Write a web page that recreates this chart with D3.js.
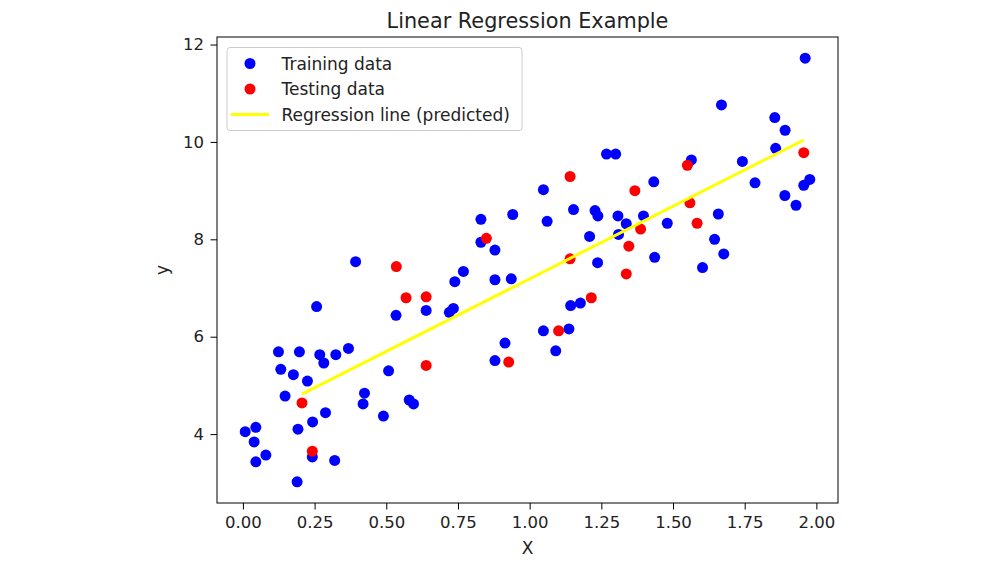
<!DOCTYPE html>
<html>
<head>
<meta charset="utf-8">
<script src="https://cdn.jsdelivr.net/npm/d3@7"></script>
<style>
  body { margin: 0; background: #fff; }
  svg { font-family: "DejaVu Sans", sans-serif; }
</style>
</head>
<body>
<div id="chart"></div>
<script>
// training points (x, y)
const trainX = [0.257, 0.534, 0.639, 0.124, 0.197, 0.268, 0.282, 0.324, 0.368, 0.132,
  0.176, 0.225, 0.147, 0.508, 0.424, 0.419, 0.580, 0.595, 0.288, 0.490,
  0.243, 0.192, 0.008, 0.045, 0.039, 0.080, 0.045, 0.242, 0.320, 0.189,
  0.393, 1.048, 1.153, 1.228, 1.238, 1.308, 0.830, 0.941, 1.061, 0.830,
  0.879, 1.209, 1.310, 1.237, 0.769, 0.739, 0.879, 0.936, 0.734, 0.720,
  1.143, 1.177, 1.048, 1.137, 1.091, 0.914, 0.879, 1.961, 1.669, 1.855,
  1.891, 1.858, 1.268, 1.300, 1.564, 1.742, 1.786, 1.977, 1.956, 1.890,
  1.929, 1.433, 1.397, 1.337, 1.480, 1.658, 1.645, 1.677, 1.436, 1.603];
const trainY = [6.62, 6.44, 6.54, 5.69, 5.69, 5.63, 5.46, 5.63, 5.76, 5.33,
  5.22, 5.09, 4.78, 5.30, 4.84, 4.62, 4.70, 4.62, 4.44, 4.37,
  4.25, 4.10, 4.05, 4.14, 3.84, 3.57, 3.43, 3.53, 3.46, 3.02,
  7.54, 9.02, 8.61, 8.59, 8.48, 8.48, 8.41, 8.51, 8.37, 7.94,
  7.78, 8.06, 8.10, 7.52, 7.34, 7.13, 7.17, 7.19, 6.58, 6.50,
  6.64, 6.69, 6.12, 6.16, 5.71, 5.87, 5.51, 11.72, 10.76, 10.50,
  10.24, 9.87, 9.75, 9.75, 9.63, 9.60, 9.16, 9.23, 9.11, 8.90,
  8.70, 9.18, 8.48, 8.32, 8.33, 8.52, 8.00, 7.70, 7.63, 7.42];

// testing points
const testX = [0.569, 0.639, 0.206, 0.639, 0.242, 0.535, 1.141, 0.849, 1.141, 1.215,
  1.101, 0.927, 1.956, 1.550, 1.367, 1.559, 1.387, 1.584, 1.346, 1.337];
const testY = [6.80, 6.82, 4.64, 5.41, 3.65, 7.44, 9.29, 8.02, 7.60, 6.80,
  6.12, 5.48, 9.78, 9.52, 9.00, 8.75, 8.21, 8.33, 7.86, 7.29];

// regression line (predicted), end points
const lineX = [0.206, 1.956];
const lineY = [4.82, 10.04];

const xTicks = [0, 0.25, 0.5, 0.75, 1, 1.25, 1.5, 1.75, 2];
const yTicks = [4, 6, 8, 10, 12];

const legendLabels = ["Training data", "Testing data", "Regression line (predicted)"];

const W = 1000, H = 563;
const margin = { top: 37, right: 162, bottom: 60, left: 217 };
const width = W - margin.left - margin.right,
      height = H - margin.top - margin.bottom;

const svg = d3.select("#chart").append("svg")
  .attr("width", W).attr("height", H);

const g = svg.append("g")
  .attr("transform", `translate(${margin.left},${margin.top})`);

// matplotlib-style 5% margins
function padded(vals) {
  const [lo, hi] = d3.extent(vals);
  const m = (hi - lo) * 0.05;
  return [lo - m, hi + m];
}

const x = d3.scaleLinear().domain(padded(trainX.concat(testX))).range([0, width]);
const y = d3.scaleLinear().domain(padded(trainY.concat(testY))).range([height, 0]);

const train = trainX.map((d, i) => ({ x: d, y: trainY[i] }));
const test = testX.map((d, i) => ({ x: d, y: testY[i] }));

// axes
const xAxis = g.append("g")
  .attr("transform", `translate(0,${height})`)
  .call(d3.axisBottom(x).tickValues(xTicks).tickFormat(d3.format(".2f")).tickSizeOuter(0).tickSize(6.5).tickPadding(7));
const yAxis = g.append("g")
  .call(d3.axisLeft(y).tickValues(yTicks).tickFormat(d3.format("d")).tickSizeOuter(0).tickSize(6.5).tickPadding(6.5));
[xAxis, yAxis].forEach(a => {
  a.select(".domain").remove();
  a.selectAll("line").attr("stroke", "#000").attr("stroke-width", 1);
  a.selectAll("text").attr("fill", "#222").style("font-size", "16.5px").style("font-family", "DejaVu Sans");
});

// frame
g.append("rect")
  .attr("width", width).attr("height", height)
  .attr("fill", "none").attr("stroke", "#000").attr("stroke-width", 1);

// points
g.selectAll("circle.train")
  .data(train)
  .join("circle")
    .attr("class", "train")
    .attr("cx", d => x(d.x))
    .attr("cy", d => y(d.y))
    .attr("r", 5.5)
    .attr("fill", "#0000ff");

g.selectAll("circle.test")
  .data(test)
  .join("circle")
    .attr("class", "test")
    .attr("cx", d => x(d.x))
    .attr("cy", d => y(d.y))
    .attr("r", 5.5)
    .attr("fill", "#ff0000");

g.append("path")
  .datum(lineX.map((d, i) => [d, lineY[i]]))
  .attr("d", d3.line().x(d => x(d[0])).y(d => y(d[1])))
  .attr("stroke", "#ffff00")
  .attr("stroke-width", 3)
  .attr("fill", "none");

// labels
svg.append("text")
  .attr("x", margin.left + width / 2)
  .attr("y", 28)
  .attr("text-anchor", "middle")
  .attr("fill", "#222")
  .style("font-size", "20.8px")
  .text("Linear Regression Example");

svg.append("text")
  .attr("x", margin.left + width / 2)
  .attr("y", 554)
  .attr("text-anchor", "middle")
  .attr("fill", "#222")
  .style("font-size", "17px")
  .text("X");

svg.append("text")
  .attr("transform", `translate(168, ${margin.top + height / 2}) rotate(-90)`)
  .attr("text-anchor", "middle")
  .attr("fill", "#222")
  .style("font-size", "17px")
  .text("y");

// legend
const legend = g.append("g").attr("transform", "translate(10,10.5)");
legend.append("rect")
  .attr("width", 295).attr("height", 83)
  .attr("rx", 3)
  .attr("fill", "#fff").attr("fill-opacity", 0.8)
  .attr("stroke", "#ccc");

const colors = ["#0000ff", "#ff0000", "#ffff00"];
legendLabels.forEach((lab, i) => {
  const ly = 16 + i * 25.5;
  if (i < 2) {
    legend.append("circle").attr("cx", 23).attr("cy", ly).attr("r", 5.5).attr("fill", colors[i]);
  } else {
    legend.append("line").attr("x1", 4).attr("x2", 42).attr("y1", ly).attr("y2", ly)
      .attr("stroke", colors[i]).attr("stroke-width", 3);
  }
  legend.append("text")
    .attr("x", 54.5).attr("y", ly)
    .attr("dy", "0.36em")
    .attr("fill", "#222")
    .style("font-size", "17px")
    .text(lab);
});
</script>
</body>
</html>
